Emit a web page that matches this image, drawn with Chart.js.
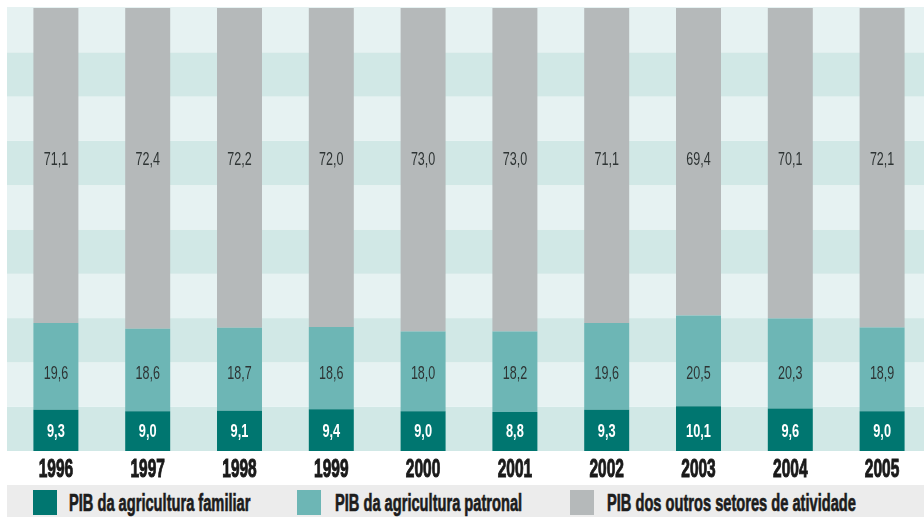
<!DOCTYPE html>
<html lang="pt-BR">
<head>
<meta charset="utf-8">
<title>PIB da agricultura familiar</title>
<script src="https://cdn.jsdelivr.net/npm/chart.js@4.4.1/dist/chart.umd.min.js"></script>
<style>
    html, body {
        margin: 0;
        padding: 0;
        background: #ffffff;
        overflow: hidden;
        width: 924px;
        height: 517px;
    }
    .wrap {
        position: relative;
        width: 924px;
        height: 517px;
        overflow: hidden;
    }
    .chart-box {
        position: absolute;
        left: 0;
        top: 0;
        width: 928px;
        height: 485px;
    }
    .legend {
        position: absolute;
        left: 7px;
        top: 485px;
        width: 917px;
        height: 32px;
        background: #ececec;
        font-family: "Liberation Sans", Arial, sans-serif;
        font-weight: bold;
        font-size: 24px;
        color: #1c1c1c;
    }
    .legend .swatch {
        position: absolute;
        top: 5px;
        width: 24px;
        height: 25px;
    }
    .legend .name {
        position: absolute;
        top: 4px;
        line-height: 27px;
        white-space: nowrap;
        -webkit-text-stroke: 0.7px #1c1c1c;
        transform: scaleX(0.61);
        transform-origin: 0 0;
    }
</style>
</head>
<body>
<div class="wrap">
    <div class="chart-box"><canvas id="pibChart"></canvas></div>
    <div class="legend" id="legend"></div>
</div>
<script>
// Participação no PIB (%), 1996-2005
const years = ['1996', '1997', '1998', '1999', '2000', '2001', '2002', '2003', '2004', '2005'];
const familiar = [9.3, 9.0, 9.1, 9.4, 9.0, 8.8, 9.3, 10.1, 9.6, 9.0];
const patronal = [19.6, 18.6, 18.7, 18.6, 18.0, 18.2, 19.6, 20.5, 20.3, 18.9];
const outros = [71.1, 72.4, 72.2, 72.0, 73.0, 73.0, 71.1, 69.4, 70.1, 72.1];
const seriesNames = ['PIB da agricultura familiar', 'PIB da agricultura patronal', 'PIB dos outros setores de atividade'];

const COLORS = ['#007670', '#6db6b5', '#b5b9ba'];
const FONT = '"Liberation Sans", Arial, sans-serif';
// per-series label style: colour, weight, size, horizontal squeeze
const LABEL_STYLE = [
    { color: '#ffffff', weight: 'bold', size: 18, squeeze: 0.71 },
    { color: '#2e3434', weight: 'normal', size: 19, squeeze: 0.66 },
    { color: '#2e3434', weight: 'normal', size: 19, squeeze: 0.66 }
];
// y value of the text baseline for each series (same row for every bar)
const LABEL_ROWS = [3.2, 16.3, 64.6];

const fmt = v => v.toFixed(1).replace('.', ',');

// condensed text: draw with a horizontal scale, optional stroke to thicken
function squeezedText(ctx, text, x, y, squeeze, stroke) {
    ctx.save();
    ctx.translate(x, y);
    ctx.scale(squeeze, 1);
    ctx.fillText(text, 0, 0);
    if (stroke) {
        ctx.lineWidth = stroke;
        ctx.strokeStyle = ctx.fillStyle;
        ctx.strokeText(text, 0, 0);
    }
    ctx.restore();
}

// alternating horizontal bands every 10%
const bandsPlugin = {
    id: 'bands',
    beforeDatasetsDraw(chart) {
        const { ctx, scales: { y } } = chart;
        ctx.save();
        for (let v = 0; v < 100; v += 10) {
            let top = y.getPixelForValue(v + 10);
            const bottom = y.getPixelForValue(v);
            if (v === 90) top -= 1;
            ctx.fillStyle = (v / 10) % 2 === 0 ? '#d1e8e6' : '#e6f2f2';
            ctx.fillRect(7, top, chart.width - 7, bottom - top);
        }
        ctx.restore();
    }
};

// values inside the bars and the year row under them
const labelsPlugin = {
    id: 'valueLabels',
    afterDatasetsDraw(chart) {
        const { ctx, scales: { y }, chartArea } = chart;
        ctx.save();
        ctx.textAlign = 'center';
        ctx.textBaseline = 'alphabetic';
        chart.data.datasets.forEach((ds, i) => {
            const st = LABEL_STYLE[i];
            const meta = chart.getDatasetMeta(i);
            ctx.fillStyle = st.color;
            ctx.font = `${st.weight} ${st.size}px ${FONT}`;
            const yPos = y.getPixelForValue(LABEL_ROWS[i]);
            meta.data.forEach((bar, j) => {
                squeezedText(ctx, fmt(ds.data[j]), bar.x, yPos, st.squeeze);
            });
        });

        ctx.fillStyle = '#1a1a1a';
        ctx.font = `bold 25px ${FONT}`;
        const meta0 = chart.getDatasetMeta(0);
        chart.data.labels.forEach((lbl, j) => {
            squeezedText(ctx, lbl, meta0.data[j].x, chartArea.bottom + 25.5, 0.62, 1);
        });
        ctx.restore();
    }
};

const datasets = [familiar, patronal, outros].map((data, i) => ({
    label: seriesNames[i],
    data: data,
    backgroundColor: COLORS[i],
    borderWidth: 0,
    barPercentage: 1,
    categoryPercentage: 0.49
}));

new Chart(document.getElementById('pibChart'), {
    type: 'bar',
    data: { labels: years, datasets: datasets },
    plugins: [bandsPlugin, labelsPlugin],
    options: {
        responsive: true,
        maintainAspectRatio: false,
        animation: false,
        layout: { padding: { left: 10, right: 0, top: 8, bottom: 34 } },
        plugins: {
            legend: { display: false },
            tooltip: { enabled: false }
        },
        scales: {
            x: {
                stacked: true,
                display: false
            },
            y: {
                stacked: true,
                display: false,
                min: 0,
                max: 100
            }
        }
    }
});

// legend row
const swatchX = [33, 297, 570];
const nameX = [69, 335, 607];
document.getElementById('legend').innerHTML = seriesNames.map((name, i) => `
    <span class="swatch" style="left:${swatchX[i] - 7}px;background:${COLORS[i]}"></span>
    <span class="name" style="left:${nameX[i] - 7}px">${name}</span>
`).join('');
</script>
</body>
</html>
